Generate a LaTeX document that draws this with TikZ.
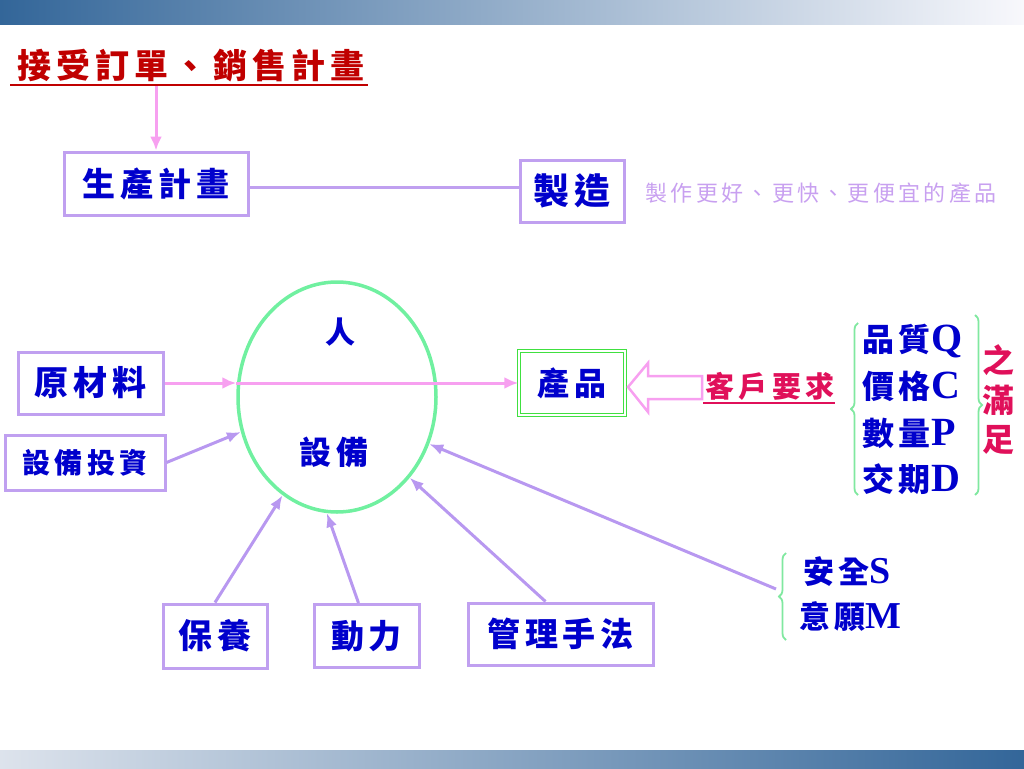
\documentclass[tikz,border=0pt]{standalone}
\usepackage{fontspec}
\usetikzlibrary{arrows.meta,shapes.geometric,decorations.pathreplacing}
\newfontfamily\cjk[LetterSpace=15]{Noto Sans CJK TC}
\newfontfamily\cjkn{Noto Sans CJK TC}
\newfontfamily\lat{Liberation Serif}
\newcommand\fsz[1]{\fontsize{#1}{#1}\selectfont}
\newcommand\lt[2][40]{{\lat\bfseries\fsz{#1}#2}}
\definecolor{boxc}{HTML}{C0A0F0}
\definecolor{arrc}{HTML}{B898F0}
\definecolor{pinkc}{HTML}{F7A0F0}
\definecolor{ellc}{HTML}{70F0A0}
\definecolor{prodc}{HTML}{40E040}
\definecolor{bracec}{HTML}{80E8A0}
\definecolor{bluet}{HTML}{0000CC}
\definecolor{titler}{HTML}{C00000}
\definecolor{crim}{HTML}{E0105A}
\definecolor{lightp}{HTML}{C8A0F0}
\definecolor{barblue}{HTML}{336699}
\definecolor{barlight}{HTML}{F8F8FC}
\definecolor{barlight2}{HTML}{DDE3EC}
\tikzset{
  box/.style={draw=boxc, line width=3pt, inner sep=0pt, text=bluet, font=\cjk\bfseries},
  parrow/.style={draw=pinkc, line width=3pt, -{Latex[length=14pt,width=12pt]}},
  larrow/.style={draw=arrc, line width=3pt, -{Latex[length=14pt,width=11pt]}},
  gbrace/.style={draw=bracec, line width=1.8pt, decorate, decoration={brace, amplitude=7pt}},
  row/.style={inner sep=0pt, anchor=west, text=bluet, font=\cjk\bfseries\fsz{32}},
  vch/.style={inner sep=0pt, text=crim, font=\cjkn\bfseries\fsz{32}},
}
\begin{document}
\begin{tikzpicture}[x=1pt,y=-1pt]
\useasboundingbox (0,0) rectangle (1024,768);
% bars
\shade[left color=barblue, right color=barlight] (0,0) rectangle (1024,25);
\shade[left color=barlight2, right color=barblue] (0,750) rectangle (1024,768);

% title
\node[inner sep=0pt, text=titler, font=\cjk\bfseries\fsz{34}] (title) at (191,66) {接受訂單、銷售計畫};
\draw[titler, line width=2pt] (10,85) -- (368,85);

% plan / make
\node[box, minimum width=184pt, minimum height=63pt, font=\cjk\bfseries\fsz{33}] (plan) at (156,183.5) {生產計畫};
\node[box, minimum width=104pt, minimum height=62pt, font=\cjk\bfseries\fsz{36}] (make) at (572,191) {製造};
\node[inner sep=0pt, text=lightp, font=\cjk\fsz{22}] (better) at (821,193) {製作更好、更快、更便宜的產品};
\draw[parrow] (plan.north |- 0,86) -- (plan.north);
\draw[draw=boxc, line width=3pt] (plan.east |- 0,187) -- (make.west |- 0,187);

% ellipse
\node[draw=ellc, line width=3.5pt, ellipse, minimum width=198pt, minimum height=230pt, inner sep=0pt] (eq) at (337,397) {};
\node[inner sep=0pt, text=bluet, font=\cjk\bfseries\fsz{30}] (person) at (340,332) {人};
\node[inner sep=0pt, text=bluet, font=\cjk\bfseries\fsz{32}] (equip) at (334,452) {設備};

% left boxes
\node[box, minimum width=145pt, minimum height=62pt, font=\cjk\bfseries\fsz{34}] (raw) at (90.5,383) {原材料};
\node[box, minimum width=160pt, minimum height=55pt, font=\cjk\bfseries\fsz{28}] (invest) at (85,462.5) {設備投資};

% product
\node[draw=prodc, line width=1.3pt, double=white, double distance=2pt, minimum width=106pt, minimum height=64pt, inner sep=0pt, text=bluet, font=\cjk\bfseries\fsz{32}] (prod) at (572,383) {產品};

\draw[parrow] (raw.east) -- (raw.east -| eq.west);
\draw[parrow] (raw.east -| eq.west) -- (prod.west);
\draw[larrow] (invest.east) -- (eq.200);

% hollow arrow
\draw[pinkc, line width=2.5pt, line join=miter] (628,387) -- (648,363) -- (648,376) -- (702,376) -- (702,399) -- (648,399) -- (648,412) -- cycle;

% customer requirement
\node[inner sep=0pt, text=crim, font=\cjk\bfseries\fsz{29}] (cust) at (770,386) {客戶要求};
\draw[crim, line width=2pt] (703,403) -- (835,403);

% QCPD
\node[row] (q) at (862,341) {品質\lt{Q}};
\node[row] (c) at (862,386) {價格\lt{C}};
\node[row] (p) at (862,433) {數量\lt{P}};
\node[row] (d) at (862,479) {交期\lt{D}};
\draw[gbrace] (858,495) -- (858,323);
\draw[gbrace] (975,315) -- (975,495);
\node[vch] (s1) at (998,360) {之};
\node[vch] (s2) at (998,400) {滿};
\node[vch] (s3) at (998,440) {足};

% bottom boxes
\node[box, minimum width=104pt, minimum height=64pt, font=\cjk\bfseries\fsz{34}] (keep) at (215,636) {保養};
\node[box, minimum width=105pt, minimum height=63pt, font=\cjk\bfseries\fsz{33}] (power) at (366.5,636) {動力};
\node[box, minimum width=185pt, minimum height=62pt, font=\cjk\bfseries\fsz{33}] (mgmt) at (560.5,634) {管理手法};
\draw[larrow] (keep.north) -- (eq.241);
\draw[larrow] ([xshift=-8pt]power.north) -- (eq.265);
\draw[larrow] ([xshift=-15pt]mgmt.north) -- (eq.312);

% safety / will
\node[row, font=\cjk\bfseries\fsz{31}] (safe) at (803,572) {安全\lt[38]{S}};
\node[row, font=\cjk\bfseries\fsz{31}] (will) at (799,617) {意願\lt[38]{M}};
\draw[gbrace] (786,640) -- (786,553);
\coordinate (stip) at (776,589);
\draw[larrow] (stip) -- (eq.333);
\end{tikzpicture}
\end{document}
